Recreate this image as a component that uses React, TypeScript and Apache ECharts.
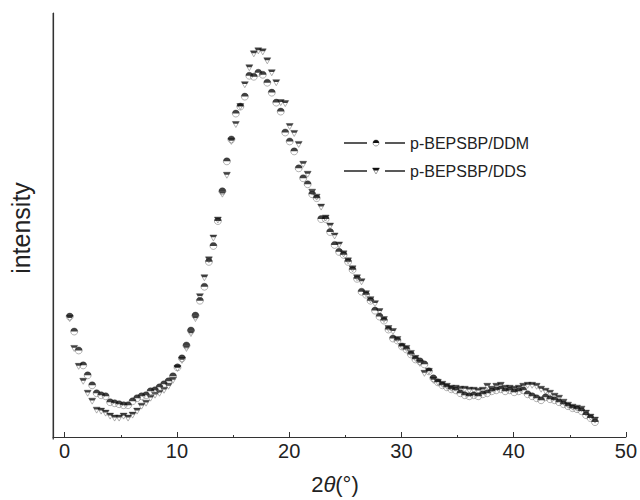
import React, { useEffect, useRef } from "react";
import * as echarts from "echarts";

// 2θ sampling angles (degrees)
const angles = [
  0.45, 0.85, 1.25, 1.65, 2.05, 2.45, 2.85, 3.25, 3.65, 4.05,
  4.45, 4.85, 5.25, 5.65, 6.05, 6.45, 6.85, 7.25, 7.65, 8.05,
  8.45, 8.85, 9.25, 9.65, 10.05, 10.45, 10.85, 11.25, 11.65, 12.05,
  12.45, 12.85, 13.25, 13.65, 14.05, 14.45, 14.85, 15.25, 15.65, 16.05,
  16.45, 16.85, 17.25, 17.65, 18.05, 18.45, 18.85, 19.25, 19.65, 20.05,
  20.45, 20.85, 21.25, 21.65, 22.05, 22.45, 22.85, 23.25, 23.65, 24.05,
  24.45, 24.85, 25.25, 25.65, 26.05, 26.45, 26.85, 27.25, 27.65, 28.05,
  28.45, 28.85, 29.25, 29.65, 30.05, 30.45, 30.85, 31.25, 31.65, 32.05,
  32.45, 32.85, 33.25, 33.65, 34.05, 34.45, 34.85, 35.25, 35.65, 36.05,
  36.45, 36.85, 37.25, 37.65, 38.05, 38.45, 38.85, 39.25, 39.65, 40.05,
  40.45, 40.85, 41.25, 41.65, 42.05, 42.45, 42.85, 43.25, 43.65, 44.05,
  44.45, 44.85, 45.25, 45.65, 46.05, 46.45, 46.85, 47.25,
];

// intensity (arbitrary units) of p-BEPSBP/DDM
const ddm = [
  119, 104, 85, 70, 60, 50, 42, 40, 39, 33, 32, 31, 30, 30, 34, 37, 39, 40, 44, 45,
  48, 51, 54, 59, 68, 77, 90, 105, 120, 135, 149, 174, 190, 215, 245, 275, 297, 323, 330, 340,
  361, 360, 364, 362, 354, 344, 334, 325, 304, 295, 285, 268, 258, 252, 242, 238, 217, 217, 204, 191,
  184, 181, 174, 166, 157, 144, 141, 135, 125, 119, 115, 106, 97, 95, 89, 86, 81, 76, 74, 71,
  64, 57, 53, 50, 48, 46, 45, 42, 40, 39, 40, 39, 41, 42, 44, 45, 46, 44, 45, 43,
  44, 45, 41, 39, 37, 35, 38, 36, 35, 33, 31, 29, 27, 26, 24, 20, 17, 13,
];

// intensity (arbitrary units) of p-BEPSBP/DDS
const dds = [
  117, 87, 69, 54, 42, 34, 25, 24, 22, 19, 17, 17, 19, 17, 20, 24, 29, 32, 37, 40,
  42, 45, 49, 55, 67, 75, 87, 102, 117, 139, 158, 176, 198, 216, 242, 261, 295, 312, 330, 352,
  369, 383, 386, 385, 376, 364, 354, 334, 333, 310, 303, 292, 272, 262, 244, 239, 229, 218, 210, 200,
  191, 182, 175, 167, 158, 154, 142, 136, 132, 124, 116, 107, 104, 96, 89, 87, 82, 77, 72, 62,
  64, 55, 53, 51, 49, 47, 47, 46, 46, 45, 45, 44, 45, 49, 46, 49, 50, 47, 47, 46,
  47, 49, 50, 50, 49, 46, 44, 42, 39, 37, 33, 30, 28, 27, 26, 22, 18, 15,
];

const majorTicks = [0, 10, 20, 30, 40, 50];
const minorTicks = [5, 15, 25, 35, 45];
const seriesNames = ["p-BEPSBP/DDM", "p-BEPSBP/DDS"];

const FONT = "Liberation Sans, Arial, sans-serif";
const INK = "#222";

export default function App() {
  const ref = useRef<HTMLDivElement>(null);

  useEffect(() => {
    if (!ref.current) return;
    const chart = echarts.init(ref.current, undefined, { renderer: "svg" });
    const ddmData = angles.map((a, i) => [a, ddm[i]]);
    const ddsData = angles.map((a, i) => [a, dds[i]]);

    const outline = { color: "rgba(255,255,255,0)", borderColor: "#777", borderWidth: 0.7 };

    const legendRow = (y: number, name: string, tri: boolean) => {
      const sym = tri
        ? [
            {
              type: "polygon",
              shape: { points: [[372.5, y - 3], [379.5, y - 3], [376, y + 3]] },
              style: { fill: "none", stroke: "#777", lineWidth: 0.7 },
            },
            {
              type: "polygon",
              shape: { points: [[372.5, y - 3], [379.5, y - 3], [378.1, y - 0.6], [373.9, y - 0.6]] },
              style: { fill: "#111" },
            },
          ]
        : [
            {
              type: "circle",
              shape: { cx: 376, cy: y, r: 3 },
              style: { fill: "none", stroke: "#777", lineWidth: 0.7 },
            },
            {
              type: "sector",
              shape: { cx: 376, cy: y, r: 3, r0: 0, startAngle: Math.PI, endAngle: Math.PI * 2, clockwise: true },
              style: { fill: "#111" },
            },
          ];
      return [
        { type: "line", shape: { x1: 344, y1: y, x2: 367, y2: y }, style: { stroke: INK, lineWidth: 1.5 } },
        { type: "line", shape: { x1: 385, y1: y, x2: 405, y2: y }, style: { stroke: INK, lineWidth: 1.5 } },
        ...sym,
        {
          type: "text",
          x: 410,
          y: y,
          style: { text: name, fontSize: 16, fontFamily: FONT, fill: INK, verticalAlign: "middle", align: "left" },
        },
      ];
    };

    chart.setOption({
      animation: false,
      backgroundColor: "#fff",
      grid: { left: 53, top: 13, right: 12, bottom: 61 },
      xAxis: [
        {
          type: "value",
          min: -1.04,
          max: 50,
          axisLine: { show: true, onZero: false, lineStyle: { color: "#333", width: 1 } },
          axisTick: { show: true, inside: true, length: 5, customValues: majorTicks, lineStyle: { color: "#333" } },
          axisLabel: { show: true, customValues: majorTicks, fontSize: 20, fontFamily: FONT, color: INK, margin: 4 },
          splitLine: { show: false },
          name: "{n|2}{i|θ}{n|(°)}",
          nameLocation: "middle",
          nameGap: 36,
          nameTextStyle: {
            padding: [0, 9, 0, 0],
            rich: {
              n: { fontSize: 22, fontFamily: FONT, color: INK },
              i: { fontSize: 22, fontFamily: FONT, color: INK, fontStyle: "italic" },
            },
          },
        },
        {
          type: "value",
          min: -1.04,
          max: 50,
          position: "bottom",
          axisLine: { show: false, onZero: false },
          axisTick: { show: true, inside: true, length: 2, customValues: minorTicks, lineStyle: { color: "#333" } },
          axisLabel: { show: false },
          splitLine: { show: false },
        },
      ],
      yAxis: {
        type: "value",
        position: "left",
        min: -2,
        max: 424,
        axisLine: { show: true, onZero: false, lineStyle: { color: "#333", width: 1.2 } },
        axisTick: { show: false },
        axisLabel: { show: false },
        splitLine: { show: false },
      },
      graphic: [
        {
          type: "rect",
          z: 100,
          shape: { x: 52.6, y: 13, width: 1.3, height: 426.5 },
          style: { fill: "#333" },
        },
        {
          type: "text",
          x: 21,
          y: 228,
          rotation: Math.PI / 2,
          style: { text: "intensity", fontSize: 25, fontFamily: FONT, fill: INK, align: "center", verticalAlign: "middle" },
        },
        ...legendRow(143, seriesNames[0], false),
        ...legendRow(171, seriesNames[1], true),
      ],
      series: [
        {
          name: seriesNames[1],
          type: "scatter",
          data: ddsData,
          symbol: "path://M0,0L10,0L5,8.66Z",
          symbolSize: [7, 6],
          itemStyle: outline,
        },
        {
          name: seriesNames[1],
          type: "scatter",
          data: ddsData,
          symbol: "path://M0,0L10,0L8,4L2,4Z",
          symbolSize: [7, 2.4],
          symbolOffset: [0, -1.8],
          itemStyle: { color: "#111" },
        },
        {
          name: seriesNames[0],
          type: "scatter",
          data: ddmData,
          symbol: "circle",
          symbolSize: 7,
          itemStyle: outline,
        },
        {
          name: seriesNames[0],
          type: "scatter",
          data: ddmData,
          symbol: "path://M0,5A5,5,0,0,1,10,5Z",
          symbolSize: [7, 3.5],
          symbolOffset: [0, -1.75],
          itemStyle: { color: "#111" },
        },
      ],
    });
    return () => chart.dispose();
  }, []);

  return <div ref={ref} style={{ position: "fixed", left: 0, top: 0, width: 640, height: 500 }} />;
}
